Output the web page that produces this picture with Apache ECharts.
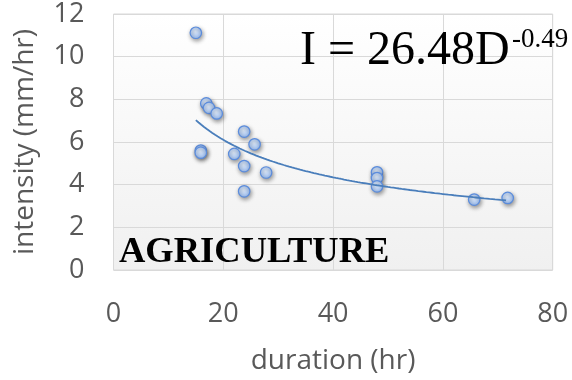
<!DOCTYPE html>
<html><head><meta charset="utf-8">
<script src="https://cdn.jsdelivr.net/npm/echarts@6/dist/echarts.min.js"></script>
<style>html,body{margin:0;padding:0;background:#fff}#c{width:572px;height:380px}</style>
</head><body><div id="c"></div>
<script>
const durations   = [15.0, 16.9, 17.4, 18.8, 15.9, 15.9, 23.8, 25.7, 22.0, 23.8, 27.8, 23.8, 48.0, 48.0, 48.0, 65.7, 71.8];
const intensities = [11.12, 7.81, 7.60, 7.34, 5.60, 5.50, 6.49, 5.89, 5.44, 4.87, 4.57, 3.69, 4.58, 4.31, 3.92, 3.30, 3.38];
const xTicks = [0, 20, 40, 60, 80];
const yTicks = [0, 2, 4, 6, 8, 10, 12];
const trendCoef = 26.48;
const trendExp = -0.49;
const equationMain = 'I = 26.48D';
const equationSup = '-0.49';
const panelLabel = 'AGRICULTURE';

const pts = durations.map((d, i) => [d, intensities[i]]);
const xMin = Math.min(...durations), xMax = Math.max(...durations);
const trend = [];
for (let x = xMin; x <= xMax + 1e-9; x += 0.5) trend.push([x, trendCoef * Math.pow(x, trendExp)]);

const chart = echarts.init(document.getElementById('c'));
const tickFont = {fontFamily: 'Open Sans', fontSize: 27, color: '#595959'};
const nameFont = {fontFamily: 'Open Sans', fontSize: 28, color: '#595959'};
chart.setOption({
  animation: false,
  grid: {left: 113.5, right: 19.3, top: 14, bottom: 106.7, show: true,
    borderColor: '#d9d9d9', borderWidth: 1,
    backgroundColor: new echarts.graphic.LinearGradient(0, 0, 0, 1, [{offset: 0, color: '#ffffff'}, {offset: 1, color: '#f0f0f0'}])},
  xAxis: {type: 'value', min: xTicks[0], max: xTicks[xTicks.length - 1], interval: 20,
    name: 'duration (hr)', nameLocation: 'middle', nameGap: 77,
    nameTextStyle: nameFont,
    axisLine: {show: false}, axisTick: {show: false},
    axisLabel: Object.assign({margin: 31}, tickFont),
    splitLine: {lineStyle: {color: '#d9d9d9', width: 1}}},
  yAxis: {type: 'value', min: yTicks[0], max: yTicks[yTicks.length - 1], interval: 2,
    name: 'intensity (mm/hr)', nameLocation: 'middle', nameGap: 74,
    nameTextStyle: nameFont,
    axisLine: {show: false}, axisTick: {show: false},
    axisLabel: Object.assign({margin: 29}, tickFont),
    splitLine: {lineStyle: {color: '#d9d9d9', width: 1}}},
  graphic: [
    {type: 'text', left: 300, top: 27, z: 100, style: {text: equationMain, font: '48px "Liberation Serif"', fill: '#000'}},
    {type: 'text', left: 512, top: 26, z: 100, style: {text: equationSup, font: '27px "Liberation Serif"', fill: '#000'}},
    {type: 'text', left: 119, top: 234, z: 100, style: {text: panelLabel, font: 'bold 36.5px "Liberation Serif"', fill: '#000'}}
  ],
  series: [
    {type: 'scatter', data: pts, symbol: 'circle', symbolSize: 11.5, z: 2,
      itemStyle: {
        color: new echarts.graphic.RadialGradient(0.45, 0.4, 0.6, [{offset: 0, color: '#e0ecfc'}, {offset: 1, color: '#99bbef'}]),
        borderColor: '#5b8cdc', borderWidth: 1.2, opacity: 1,
        shadowColor: 'rgba(0,0,0,0.4)', shadowBlur: 4, shadowOffsetX: 1, shadowOffsetY: 2}},
    {type: 'line', data: trend, showSymbol: false, smooth: false,
      lineStyle: {color: '#4a7ebb', width: 1.8}, z: 3, silent: true}
  ]
});
</script></body></html>
